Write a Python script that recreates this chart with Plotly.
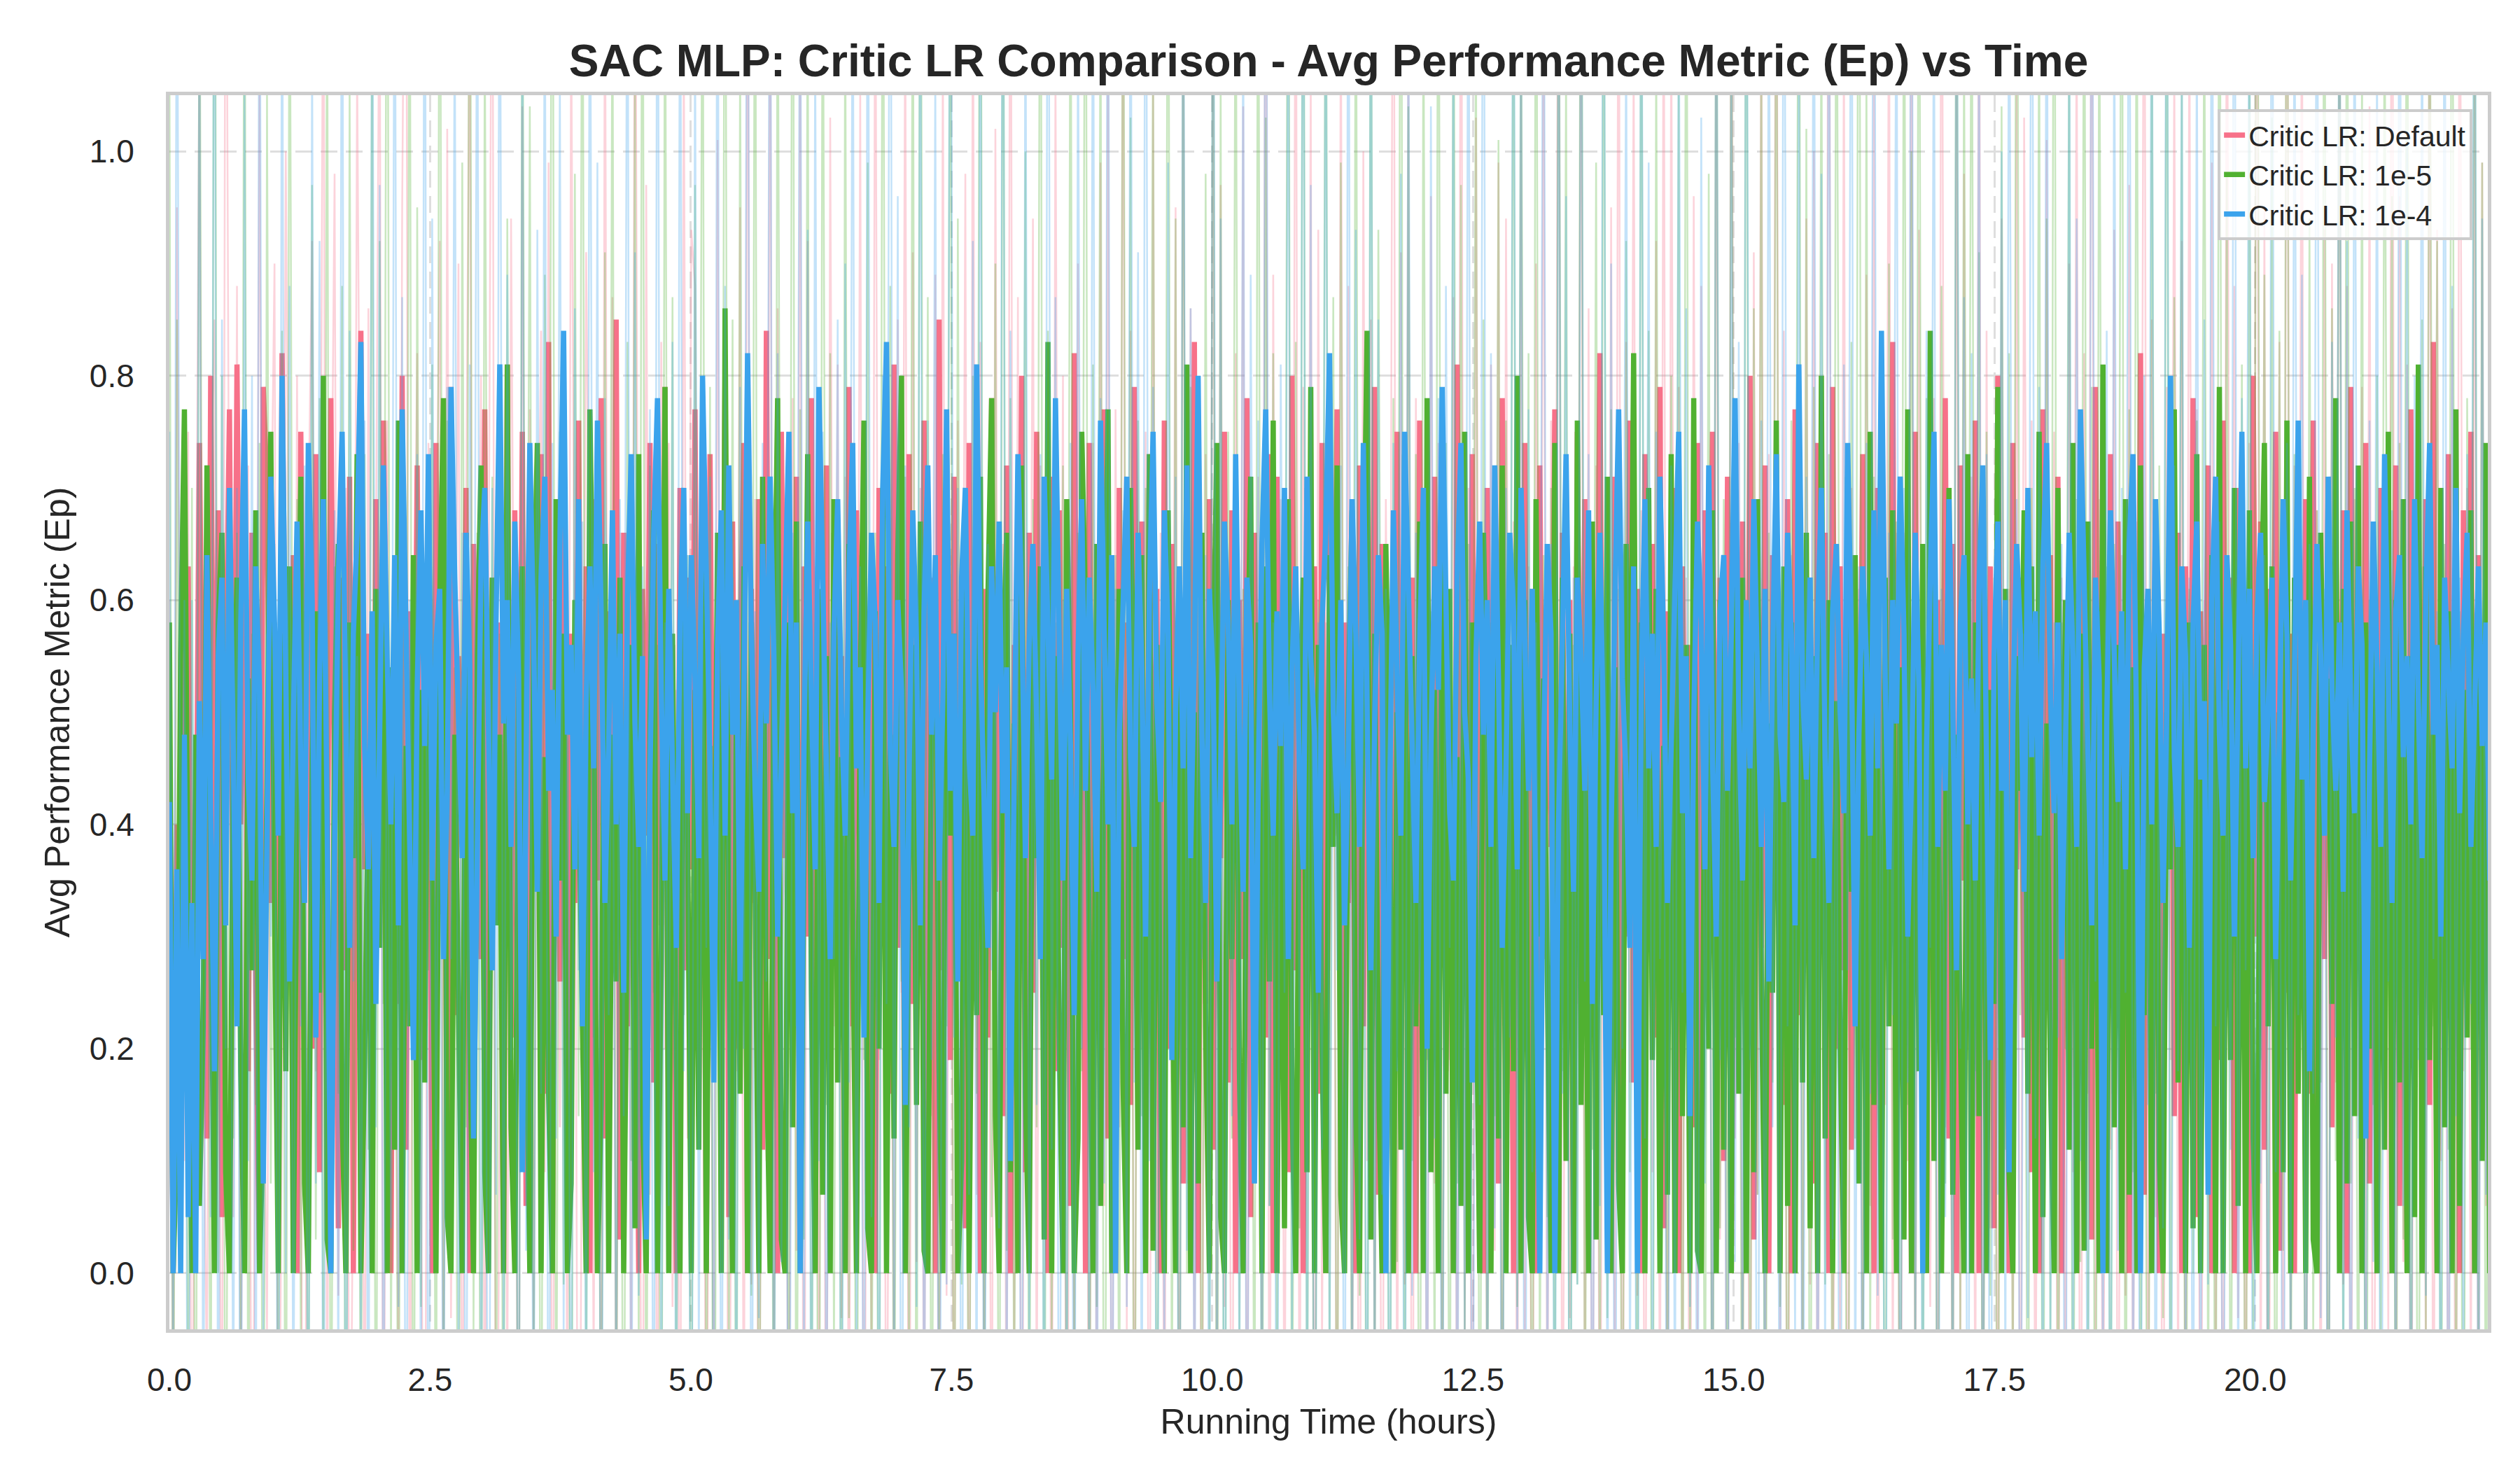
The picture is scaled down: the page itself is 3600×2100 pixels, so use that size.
import numpy as np
import plotly.graph_objects as go

# logging interval of the runs, hours
STEP_H = 0.036

# smoothed avg performance metric, in hundredths
default_smooth = [
    50, 0, 40, 22, 55, 63, 8, 30, 74, 45, 12, 80, 35, 68, 5, 52, 77, 28, 81, 40,
    72, 18, 66, 25, 0, 79, 70, 33, 58, 14, 82, 50, 26, 64, 0, 75, 38, 60, 20, 73,
    9, 67, 31, 78, 44, 4, 62, 27, 71, 0, 56, 84, 36, 57, 15, 69, 29, 76, 48, 0,
    63, 24, 80, 11, 59, 34, 72, 19, 53, 66, 0, 74, 32, 61, 7, 79, 23, 55, 38, 70,
    0, 65, 47, 28, 77, 13, 62, 35, 58, 0, 81, 21, 68, 30, 75, 6, 60, 37, 51, 73,
    16, 83, 0, 64, 26, 71, 10, 57, 33, 76, 24, 63, 0, 69, 35, 78, 12, 59, 29, 85,
    3, 66, 22, 72, 46, 0, 61, 39, 74, 17, 65, 31, 79, 8, 56, 0, 70, 27, 62, 36,
    77, 14, 68, 0, 73, 25, 58, 34, 80, 5, 67, 20, 54, 74, 0, 61, 33, 69, 11, 84,
    28, 57, 0, 75, 37, 64, 18, 71, 2, 63, 30, 78, 0, 60, 26, 72, 13, 66, 39, 55,
    0, 79, 22, 68, 31, 74, 7, 59, 0, 70, 36, 63, 16, 81, 29, 65, 0, 73, 24, 58,
    35, 76, 10, 62, 0, 85, 27, 67, 19, 71, 38, 57, 4, 74, 32, 69, 0, 61, 21, 78,
    34, 64, 14, 72, 0, 56, 30, 80, 9, 66, 25, 75, 37, 60, 0, 71, 18, 68, 29, 55,
    6, 82, 33, 63, 0, 74, 23, 59, 36, 77, 12, 64, 0, 70, 28, 58, 15, 79, 38, 67,
    3, 73, 26, 61, 0, 76, 20, 65, 32, 57, 8, 72, 30, 83, 0, 62, 24, 69, 11, 56,
    37, 75, 17, 68, 0, 60, 28, 78, 5, 66, 34, 59, 21, 73, 0, 71, 36, 64, 9, 80,
    27, 57, 0, 70, 31, 63, 16, 74, 0, 67, 39, 77, 13, 58, 33, 66, 0, 72, 22, 61,
    38, 79, 7, 65, 29, 55, 0, 75, 19, 69, 35, 62, 0, 76, 26, 60, 10, 71, 37, 67,
    18, 57, 0, 81, 30, 64, 14, 73, 25, 58, 0, 70, 34, 63, 8, 78, 23, 56, 0, 68,
    32, 74, 15, 61, 0, 72, 28, 59, 38, 77, 2, 66, 20, 60, 0, 75, 31, 69, 12, 57,
    36, 82, 24, 64, 0, 71, 9, 58, 30, 76, 17, 61, 0, 73, 35, 65, 21, 79, 4, 59,
    27, 70, 0, 63, 33, 56, 13, 74, 0, 68, 39, 75, 26, 62, 10, 71, 0, 57, 34, 67,
    19, 80, 3, 60, 29, 72, 0, 64, 37, 58, 15, 69, 0, 77, 23, 61, 32, 55, 8, 74,
    38, 66, 0, 79, 20, 63, 27, 70, 11, 59, 36, 73, 14, 64, 0, 70, 25, 58, 37, 83,
    6, 62, 31, 67, 0, 75, 22, 57, 0, 71, 33, 60, 28, 78, 12, 65, 0, 72, 35, 59,
    17, 76, 0, 68, 26, 63, 4, 80, 30, 56, 0, 74, 36, 62, 21, 69, 9, 57, 0, 77,
    32, 64, 18, 71, 0, 58, 38, 66, 0, 75, 24, 63, 3, 79, 29, 60, 0, 73, 16, 67,
    34, 56, 0, 70, 23, 82, 7, 61, 31, 68, 0, 57, 37, 74, 14, 66, 0, 63, 27, 78,
    5, 59, 33, 72, 0, 65, 19, 76, 36, 62, 0, 70, 22, 58, 0, 80, 30, 67, 11, 61,
    38, 75, 2, 64, 25, 57, 0, 73, 34, 69, 16, 76, 0, 62, 28, 71, 13, 59, 36, 68,
    0, 79, 21, 63, 32, 74, 8, 56, 0, 70, 27, 65, 35, 72, 6, 60, 0, 77, 24, 58,
    39, 69, 15, 83, 0, 62, 30, 73, 12, 57, 0, 68, 26, 75, 0, 64, 33, 59, 18, 71,
]
lr_1e5_smooth = [
    58, 0, 12, 55, 77, 30, 0, 48, 6, 22, 72, 41, 0, 58, 66, 9, 0, 45, 62, 18,
    0, 53, 27, 68, 0, 14, 49, 75, 33, 0, 57, 18, 63, 0, 42, 71, 8, 0, 46, 59,
    25, 80, 3, 0, 50, 65, 14, 0, 58, 37, 73, 0, 19, 44, 0, 61, 29, 69, 0, 54,
    11, 76, 0, 47, 22, 64, 0, 52, 17, 70, 38, 0, 59, 78, 5, 0, 48, 26, 0, 66,
    21, 0, 55, 72, 9, 0, 62, 31, 48, 0, 81, 13, 0, 51, 63, 24, 0, 58, 74, 0,
    46, 16, 0, 69, 35, 57, 0, 8, 60, 45, 20, 0, 77, 53, 0, 15, 65, 0, 48, 26,
    62, 0, 34, 56, 4, 73, 14, 0, 50, 68, 0, 28, 79, 0, 57, 19, 0, 64, 40, 0,
    52, 11, 75, 0, 47, 22, 66, 0, 86, 30, 0, 49, 16, 63, 0, 58, 35, 0, 71, 21,
    0, 53, 78, 3, 0, 58, 13, 67, 0, 42, 73, 25, 0, 61, 7, 55, 0, 69, 17, 46,
    0, 65, 32, 0, 52, 76, 4, 0, 59, 20, 70, 0, 48, 12, 64, 80, 0, 36, 56, 15,
    67, 2, 0, 51, 62, 18, 0, 74, 39, 57, 0, 10, 68, 0, 45, 23, 71, 0, 60, 78,
    14, 0, 54, 66, 9, 49, 0, 72, 16, 0, 58, 37, 63, 3, 83, 0, 55, 21, 0, 69,
    50, 0, 12, 75, 59, 24, 0, 65, 6, 52, 77, 0, 40, 61, 17, 0, 70, 47, 11, 64,
    0, 73, 2, 56, 19, 0, 68, 35, 0, 57, 13, 81, 0, 50, 8, 66, 22, 0, 54, 74,
    5, 0, 60, 28, 67, 18, 0, 49, 71, 10, 58, 0, 63, 26, 76, 0, 53, 4, 69, 15,
    0, 48, 62, 9, 79, 0, 56, 20, 0, 64, 38, 72, 7, 0, 51, 68, 14, 0, 59, 84,
    3, 57, 19, 0, 65, 44, 0, 50, 11, 73, 0, 55, 22, 67, 0, 78, 9, 52, 0, 70,
    16, 61, 0, 46, 6, 75, 0, 58, 24, 0, 66, 48, 0, 63, 12, 72, 0, 56, 18, 80,
    0, 60, 5, 0, 69, 30, 53, 21, 0, 74, 0, 62, 10, 57, 0, 76, 15, 50, 0, 67,
    3, 59, 23, 71, 0, 54, 8, 0, 65, 41, 82, 13, 58, 0, 70, 19, 61, 0, 47, 7,
    73, 0, 64, 14, 56, 0, 78, 2, 0, 52, 20, 68, 0, 60, 11, 53, 0, 74, 16, 62,
    0, 57, 9, 69, 27, 0, 49, 25, 76, 0, 63, 6, 58, 0, 72, 17, 66, 4, 55, 0,
    80, 12, 60, 0, 51, 20, 0, 71, 34, 64, 8, 57, 0, 75, 15, 50, 0, 62, 22, 68,
    0, 54, 3, 77, 0, 59, 18, 65, 0, 84, 10, 56, 0, 39, 70, 7, 48, 21, 0, 73,
    0, 58, 14, 66, 0, 52, 24, 79, 0, 61, 9, 0, 55, 43, 68, 16, 63, 0, 75, 5,
    49, 18, 0, 70, 31, 60, 11, 74, 0, 57, 2, 67, 20, 53, 0, 81, 0, 62, 13, 56,
    0, 69, 7, 54, 0, 72, 23, 59, 0, 65, 10, 0, 50, 36, 77, 17, 61, 0, 58, 4,
    73, 0, 56, 15, 64, 0, 79, 0, 52, 19, 70, 6, 60, 0, 68, 12, 0, 55, 74, 22,
    63, 0, 50, 9, 76, 0, 62, 16, 57, 0, 71, 3, 0, 66, 42, 53, 24, 78, 0, 61,
    8, 67, 14, 72, 0, 58, 20, 64, 0, 49, 11, 75, 0, 60, 17, 69, 0, 55, 5, 81,
    0, 63, 19, 54, 0, 70, 13, 59, 0, 77, 6, 52, 21, 68, 0, 62, 10, 74, 0, 57,
]
lr_1e4_smooth = [
    42, 0, 36, 0, 48, 5, 33, 0, 51, 28, 64, 40, 18, 55, 62, 31, 70, 47, 22, 58,
    77, 44, 35, 63, 52, 8, 46, 71, 58, 39, 80, 54, 26, 49, 67, 45, 33, 74, 60, 21,
    53, 69, 41, 0, 38, 62, 75, 50, 29, 57, 66, 83, 47, 36, 59, 24, 48, 72, 55, 40,
    64, 31, 77, 58, 44, 19, 52, 68, 47, 73, 35, 56, 61, 28, 43, 79, 62, 50, 37, 66,
    54, 12, 41, 63, 70, 45, 27, 58, 81, 49, 60, 38, 67, 53, 9, 46, 74, 57, 34, 62,
    71, 43, 52, 30, 65, 84, 48, 56, 36, 69, 22, 51, 63, 45, 76, 59, 33, 47, 68, 40,
    57, 25, 60, 73, 49, 38, 55, 3, 44, 66, 78, 52, 35, 61, 47, 29, 58, 70, 41, 64,
    53, 37, 80, 62, 45, 17, 56, 68, 39, 72, 48, 60, 26, 51, 82, 57, 43, 34, 65, 49,
    71, 55, 30, 46, 63, 75, 41, 58, 0, 47, 67, 53, 36, 79, 61, 44, 28, 57, 69, 50,
    39, 62, 74, 45, 54, 21, 49, 66, 58, 33, 70, 83, 47, 38, 60, 52, 15, 44, 68, 56,
    31, 59, 72, 48, 64, 35, 51, 77, 43, 57, 26, 62, 70, 46, 39, 81, 55, 42, 29, 63,
    50, 67, 41, 54, 10, 45, 73, 60, 37, 56, 65, 49, 28, 71, 58, 44, 78, 53, 35, 61,
    47, 23, 55, 69, 43, 62, 52, 34, 76, 57, 40, 64, 0, 48, 59, 71, 46, 38, 66, 54,
    30, 60, 75, 51, 42, 68, 57, 19, 50, 63, 45, 72, 37, 55, 80, 48, 33, 61, 53, 26,
    45, 67, 58, 40, 73, 49, 34, 62, 56, 8, 43, 65, 77, 52, 39, 59, 47, 70, 28, 54,
    63, 44, 36, 71, 55, 48, 25, 58, 66, 82, 50, 41, 60, 31, 46, 69, 57, 38, 74, 52,
    27, 49, 64, 57, 0, 42, 68, 53, 39, 75, 61, 46, 33, 56, 70, 20, 47, 63, 52, 79,
    58, 41, 35, 62, 74, 50, 44, 17, 55, 67, 48, 60, 38, 72, 53, 29, 45, 66, 59, 36,
    70, 54, 43, 61, 31, 0, 46, 65, 57, 0, 40, 58, 73, 49, 34, 62, 55, 43, 68, 24,
    51, 66, 47, 0, 39, 60, 77, 53, 44, 29, 63, 0, 52, 69, 45, 57, 38, 71, 56, 33,
    48, 62, 75, 41, 55, 14, 49, 67, 58, 36, 72, 46, 30, 59, 64, 43, 57, 78, 50, 35,
    60, 45, 69, 53, 38, 61, 26, 55, 73, 48, 42, 66, 57, 31, 81, 52, 44, 62, 37, 58,
    70, 46, 33, 59, 65, 50, 41, 74, 56, 22, 48, 63, 55, 39, 68, 45, 84, 53, 36, 60,
    49, 71, 57, 30, 44, 66, 52, 0, 47, 62, 75, 38, 56, 43, 69, 51, 27, 58, 64, 40,
    53, 35, 61, 72, 48, 19, 55, 67, 43, 60, 9, 50, 65, 57, 34, 70, 46, 59, 39, 63,
    74, 52, 41, 58, 28, 47, 66, 55, 38, 77, 60, 45, 31, 62, 53, 0, 49, 68, 56, 42,
    59, 36, 65, 73, 47, 0, 54, 61, 40, 69, 57, 33, 50, 80, 46, 38, 63, 55, 29, 58,
    67, 44, 51, 7, 60, 71, 48, 39, 64, 56, 30, 53, 75, 45, 61, 37, 58, 66, 42, 50,
    62, 28, 47, 69, 57, 35, 53, 76, 44, 60, 18, 49, 65, 55, 39, 71, 52, 43, 58, 34,
    68, 50, 41, 63, 56, 12, 45, 67, 54, 38, 73, 49, 33, 59, 64, 46, 55, 40, 69, 51,
    37, 60, 74, 48, 56, 30, 62, 53, 45, 70, 41, 57, 66, 38, 51, 63, 47, 58, 35, 65,
]

# raw per-episode values, in hundredths
default_raw = [
    60, -20, 95, 40, 10, 75, -35, 52, 110, 20, -10, 68, 85, 30, -25, 140, 55, 5, 88, -15,
    45, 72, -40, 30, 105, 25, -5, 62, 90, -30, 15, 100, 48, 0, 80, 12, -45, 66, 92, 18,
    35, 128, -16, 58, 98, -2, 40, 70, -33, 14, 108, 54, -24, 86, 3, 62, 122, -42, 76, 19,
    28, -8, 95, 142, -26, 50, 82, 11, -36, 74, 24, 60, 92, -18, 102, -4, 38, 90, -30, 66,
    116, 6, 44, 80, -22, 58, 136, -40, 16, 64, -12, 94, 40, -34, 104, 21, 77, -6, 56, 84,
    9, 99, -37, 62, 13, 71, -19, 113, 48, -44, 26, 91, 54, -9, 76, -31, 121, 4, 87, -23,
    66, 17, 57, -14, 131, 38, -39, 97, 7, 60, -27, 83, 20, 74, -3, 52, -35, 111, 12, 93,
    88, 23, 62, -32, 41, -15, 101, 5, 79, -41, 46, 18, 95, -25, 134, -1, 69, -36, 58, 10,
    123, -17, 86, 27, 40, -29, 78, 2, 114, -43, 92, 15, 63, -11, 56, -33, 103, 22, 81, -4,
    71, -24, 74, 9, 106, -38, 50, -6, 124, 19, 67, -30, 48, -13, 85, 25, 115, -45, 91, 1,
    70, -20, 58, 14, 89, -35, 110, -2, 64, -26, 76, 21, 98, -40, 120, 7, 83, -16, 62, -31,
    102, 11, 65, -22, 139, -8, 87, -37, 54, 24, 94, -14, 72, 3, 60, -29, 108, 16, 80, -42,
    56, -10, 90, 28, 61, -33, 74, -19, 99, 6, 112, -39, 77, 13, 121, -5, 84, -27, 58, 20,
    75, -44, 105, 0, 66, -23, 68, 17, 95, -36, 118, 8, 86, -12, 52, -30, 73, 26, 113, -18,
    97, -3, 62, -41, 82, 12, 104, -28, 57, 22, 71, -9, 146, -34, 89, 4, 69, -20, 66, 15,
    131, -25, 79, 18, 107, -46, 93, -7, 58, 27, 64, -32, 116, 1, 88, -15, 54, -39, 100, 10,
    85, -11, 62, -38, 69, 23, 145, -21, 91, -1, 111, -43, 78, 14, 59, -27, 96, 8, 74, -17,
    61, 19, 87, -30, 138, -6, 70, -40, 103, 25, 56, -13, 81, 2, 99, -35, 94, 16, 67, -24,
    106, -8, 63, -45, 90, 11, 116, -22, 76, 20, 141, -33, 59, -4, 63, 24, 123, -16, 86, -37,
    72, -29, 54, 5, 95, -14, 137, -42, 83, 17, 109, -2, 68, -31, 60, 9, 92, -20, 124, -39,
    113, 21, 79, -12, 62, -36, 96, -5, 88, 26, 65, -27, 120, 3, 57, -44, 135, 12, 74, -18,
    59, -34, 91, 7, 117, -23, 73, 19, 139, -9, 84, -40, 64, 22, 62, -15, 94, -1, 100, -30,
    80, 14, 143, -26, 58, -7, 112, -38, 70, 23, 61, -19, 89, 6, 107, -32, 77, 15, 119, -11,
    66, -43, 66, 10, 125, -21, 93, 27, 55, -3, 78, -35, 140, 13, 57, -24, 114, -8, 98, 20,
    71, -16, 132, -37, 84, 4, 60, -28, 94, 18, 61, -10, 105, -41, 103, 25, 76, -22, 68, 0,
    101, 24, 75, -33, 62, -13, 90, 9, 115, -46, 82, 16, 134, -6, 69, -25, 58, 11, 93, -36,
    64, -2, 97, -19, 67, 21, 138, -30, 85, 5, 58, -39, 79, 19, 109, -14, 92, -27, 115, 7,
    77, -41, 60, 15, 99, -11, 64, -34, 127, 22, 88, -4, 56, -24, 74, 12, 141, -17, 95, -44,
    59, 3, 83, -26, 146, -8, 72, 26, 118, -36, 60, 8, 68, -20, 93, -42, 90, 17, 121, -1,
    88, -32, 69, 14, 79, -15, 104, -45, 56, 20, 73, -6, 144, -28, 96, 1, 81, -38, 61, 23,
    63, -9, 127, -35, 93, 10, 57, -24, 86, -41, 135, 18, 70, -12, 108, -30, 99, 6, 71, -19,
]
lr_1e5_raw = [
    110, -30, 85, 5, 58, -15, 70, -40, 125, 20, 64, -25, 150, 0, 80, -35, 62, 12, 66, -10,
    132, -22, 57, 15, 74, -45, 105, 8, 61, -18, 84, -38, 128, 25, 69, -6, 59, -28, 97, 3,
    78, -12, 121, -33, 63, 16, 88, -41, 106, 2, 56, -20, 73, 11, 115, -36, 92, 24, 143, -8,
    53, -26, 67, 19, 130, -44, 95, -3, 60, 27, 81, -31, 147, -14, 76, 7, 54, -39, 99, 13,
    141, -5, 66, -37, 112, 22, 71, -17, 57, -29, 94, 9, 62, -42, 127, 18, 104, -11, 59, -34,
    89, 26, 146, -24, 75, -1, 58, -46, 98, 14, 133, -13, 68, 21, 62, -32, 91, 4, 119, -20,
    60, -39, 83, 10, 107, -8, 139, -27, 72, 25, 56, -43, 126, 1, 87, -16, 64, 23, 64, -35,
    97, 17, 131, -21, 79, -48, 54, 6, 144, -10, 85, -33, 109, 20, 70, -2, 136, -40, 63, 12,
    68, -27, 123, 24, 61, -14, 150, -36, 77, 3, 117, -23, 58, -45, 129, 15, 82, -7, 65, -30,
    115, -4, 74, -38, 64, 19, 99, -19, 66, -43, 141, 8, 88, -25, 57, 26, 71, -12, 127, -34,
    145, 11, 87, -29, 55, -9, 73, 22, 130, -41, 94, -1, 60, -32, 80, 16, 148, -18, 65, 5,
    90, -44, 137, 2, 78, -15, 62, 27, 100, -26, 69, 13, 143, -37, 84, -6, 58, 20, 72, -23,
    128, -11, 66, 18, 146, -33, 81, -3, 119, -46, 59, 23, 64, -20, 135, 7, 103, -40, 76, 14,
    70, 25, 112, -31, 56, 9, 140, -17, 94, -42, 122, 0, 79, 21, 61, -27, 98, -8, 131, -36,
    107, -47, 75, 12, 126, -5, 61, 28, 67, -24, 138, -39, 103, 6, 82, -13, 58, 17, 147, -30,
    83, 4, 144, -21, 71, -44, 60, 15, 132, -9, 87, -35, 99, 24, 63, -18, 127, -2, 57, -41,
    136, -16, 93, 26, 62, -37, 78, 1, 148, -28, 104, 10, 73, -45, 116, 19, 59, -11, 142, -23,
    74, -34, 129, 8, 97, -6, 65, 22, 113, -40, 85, -19, 58, 14, 101, -30, 76, 27, 124, -3,
    118, 20, 82, -43, 145, -12, 64, 5, 70, -26, 132, 18, 108, -38, 56, -1, 150, -22, 68, 11,
    99, -18, 136, -4, 77, 23, 61, -36, 92, 9, 64, -29, 127, 16, 84, -47, 111, 2, 63, -14,
    80, 13, 105, -39, 140, -8, 72, 25, 59, -21, 98, -44, 134, 4, 69, -16, 123, 21, 58, -32,
    147, -25, 86, 7, 111, -42, 66, 17, 128, -3, 62, -30, 76, 26, 141, -13, 102, -38, 79, 10,
    114, -1, 73, -28, 135, 22, 57, -46, 83, 12, 149, -19, 107, -7, 71, 24, 60, -35, 90, 3,
    67, -40, 130, 15, 100, -11, 144, -24, 78, 27, 58, -37, 88, 8, 62, -20, 137, -5, 110, 19,
    125, 18, 91, -33, 75, -2, 62, -41, 104, 11, 82, -15, 146, 23, 59, -29, 70, 6, 116, -44,
    94, -7, 148, -22, 58, 20, 112, -36, 69, 1, 131, -10, 79, -45, 121, 14, 63, -26, 65, 25,
    140, -31, 77, 9, 124, -17, 56, -48, 115, 16, 72, -4, 135, -23, 87, 28, 106, -39, 61, 0,
    76, 21, 118, -14, 64, -35, 139, 5, 98, -27, 60, 13, 81, -42, 112, -9, 150, 19, 89, -21,
    103, -43, 84, 2, 146, -18, 73, 24, 57, -32, 94, -6, 68, 17, 133, -40, 86, 10, 125, -13,
    131, 8, 70, -25, 109, -47, 60, 15, 80, -11, 117, 26, 96, -34, 74, 3, 138, -20, 58, -38,
    85, -5, 127, 22, 92, -30, 65, 11, 144, -16, 59, -42, 78, 20, 129, -8, 99, -28, 73, 16,
]
lr_1e4_raw = [
    75, -10, 130, 25, 60, -35, 60, 15, 115, -20, 58, 5, 140, -30, 85, 20, 62, -15, 70, -40,
    105, 10, 80, -25, 135, -5, 57, 30, 65, -38, 125, 0, 88, -18, 61, 22, 72, -33, 110, 8,
    92, -28, 58, 18, 68, -12, 138, -42, 84, 26, 55, -7, 76, -31, 128, 13, 97, -22, 61, 4,
    133, -3, 87, -36, 60, 21, 73, -16, 142, -44, 94, 11, 57, -26, 79, 28, 114, -9, 66, -34,
    81, 24, 126, -19, 59, -47, 70, 7, 136, -13, 89, 19, 62, -37, 117, 2, 64, -24, 93, 16,
    121, -41, 74, 12, 107, -6, 58, -29, 86, 27, 67, -21, 131, 9, 99, -45, 78, 23, 56, -11,
    69, 14, 134, -32, 91, -2, 63, 25, 77, -39, 145, -15, 58, 6, 83, -27, 127, 18, 64, -48,
    113, -8, 57, 29, 71, -23, 140, -40, 88, 3, 62, -17, 79, 20, 150, -35, 59, -4, 74, 26,
    137, -30, 82, 1, 60, -46, 66, 22, 129, -12, 93, -33, 111, 10, 75, -19, 58, 28, 85, -43,
    90, 17, 123, -9, 63, -37, 135, 5, 57, -25, 80, 24, 146, -14, 96, -42, 72, 13, 61, -3,
    127, -24, 76, 19, 108, -45, 58, -1, 143, 21, 70, -31, 62, 7, 92, -18, 132, -38, 65, 27,
    59, 4, 139, -16, 84, 26, 62, -41, 120, -6, 57, 15, 73, -28, 148, 11, 87, -36, 60, -13,
    74, -44, 114, 20, 58, -10, 130, -27, 78, 8, 138, -39, 61, 24, 68, -3, 125, 17, 91, -22,
    145, 10, 79, -34, 56, -7, 99, 23, 71, -47, 134, 2, 86, -20, 60, 28, 64, -30, 142, -15,
    94, -38, 62, 14, 67, -12, 117, -43, 89, 19, 76, -25, 149, 6, 58, -33, 81, 25, 121, -5,
    63, 22, 136, -21, 97, -46, 58, 11, 126, -9, 64, 27, 72, -40, 140, -17, 93, 3, 57, -32,
    131, -14, 85, 7, 61, -30, 74, 18, 98, -44, 119, -2, 66, 24, 59, -23, 104, 12, 78, -37,
    88, 29, 112, -26, 69, -5, 135, -41, 60, 15, 147, -19, 82, 4, 57, -35, 70, 21, 136, -8,
    120, -45, 77, 9, 58, 23, 141, -13, 65, -33, 124, 16, 96, -42, 62, -1, 130, 26, 73, -28,
    60, 6, 148, -22, 90, -36, 68, 20, 113, -11, 59, -47, 137, 12, 99, -18, 75, 28, 57, -40,
    72, -17, 118, 25, 86, -3, 61, -31, 103, 8, 67, -24, 129, 19, 58, -45, 111, 1, 83, -12,
    139, 19, 62, -39, 76, -20, 123, 13, 62, -34, 146, 22, 57, -6, 116, -43, 71, 10, 134, -27,
    98, -10, 129, 3, 59, -44, 81, 27, 136, -15, 63, -30, 74, 16, 150, -2, 60, -38, 66, 23,
    126, -33, 70, 17, 142, -8, 58, -22, 84, 29, 119, -46, 61, 5, 63, -16, 132, 20, 87, -42,
    82, 14, 115, -28, 73, -40, 60, 7, 100, -12, 127, 24, 69, -35, 57, -4, 145, 12, 79, -21,
    133, -6, 58, 21, 65, -47, 121, -18, 94, 10, 61, -31, 140, 26, 59, -10, 84, -39, 117, 2,
    70, 25, 137, -14, 60, -37, 80, 15, 128, -25, 57, 4, 147, -43, 72, 18, 113, -7, 62, -29,
    114, -20, 85, -1, 131, 22, 67, -36, 58, 11, 143, -16, 78, 27, 124, -45, 63, 8, 64, -24,
    141, 9, 59, -41, 74, -9, 119, 23, 89, -30, 65, 16, 135, -4, 61, -38, 83, 21, 128, -13,
    92, -34, 124, 12, 60, -22, 76, 1, 111, -46, 58, 26, 68, -17, 139, 6, 101, -32, 80, 19,
    117, -2, 71, 28, 59, -27, 134, -43, 88, 14, 62, -11, 73, 24, 144, -36, 94, 7, 62, -19,
]

runs = [
    ("Critic LR: Default", default_raw, default_smooth, "#f77189"),
    ("Critic LR: 1e-5", lr_1e5_raw, lr_1e5_smooth, "#50b131"),
    ("Critic LR: 1e-4", lr_1e4_raw, lr_1e4_smooth, "#3ba3ec"),
]

fig = go.Figure()
for name, raw, smooth, color in runs:
    t_raw = np.arange(len(raw)) * STEP_H
    t_smooth = np.arange(len(smooth)) * STEP_H
    fig.add_trace(go.Scatter(x=t_raw, y=np.array(raw) / 100, mode="lines",
                             line=dict(color=color, width=2.5), opacity=0.3,
                             showlegend=False, hoverinfo="skip"))
    fig.add_trace(go.Scatter(x=t_smooth, y=np.array(smooth) / 100, mode="lines",
                             line=dict(color=color, width=7.5), name=name))

axis_style = dict(showgrid=True, gridcolor="#dedede", gridwidth=3, griddash="24px,12px",
                  zeroline=False, showline=True, linecolor="#cccccc", linewidth=5, mirror=True,
                  ticks="outside", tickcolor="rgba(0,0,0,0)", tickformat=".1f",
                  tickfont=dict(size=46, color="#262626"))

fig.update_layout(
    width=3600, height=2100,
    margin=dict(l=234, r=54, t=128, b=209),
    paper_bgcolor="white", plot_bgcolor="white",
    font=dict(family="Liberation Sans, Arial, sans-serif", color="#262626"),
    title=dict(text="<b>SAC MLP: Critic LR Comparison - Avg Performance Metric (Ep) vs Time</b>",
               x=0.5, xref="paper", xanchor="center", y=1 - 79 / 2100, yanchor="middle",
               font=dict(size=64, color="#262626")),
    legend=dict(x=0.9934, xanchor="right", y=0.9887, yanchor="top",
                bgcolor="rgba(255,255,255,0.8)", bordercolor="#cccccc", borderwidth=4,
                font=dict(size=41, color="#262626")),
)
fig.update_xaxes(range=[0, 22.23], tick0=0, dtick=2.5, ticklen=28,
                 title=dict(text="Running Time (hours)", font=dict(size=50), standoff=18),
                 **axis_style)
fig.update_yaxes(range=[-0.05, 1.05], tick0=0, dtick=0.2, ticklen=36,
                 title=dict(text="Avg Performance Metric (Ep)", font=dict(size=50), standoff=14),
                 **axis_style)

fig.write_html("out.html")
